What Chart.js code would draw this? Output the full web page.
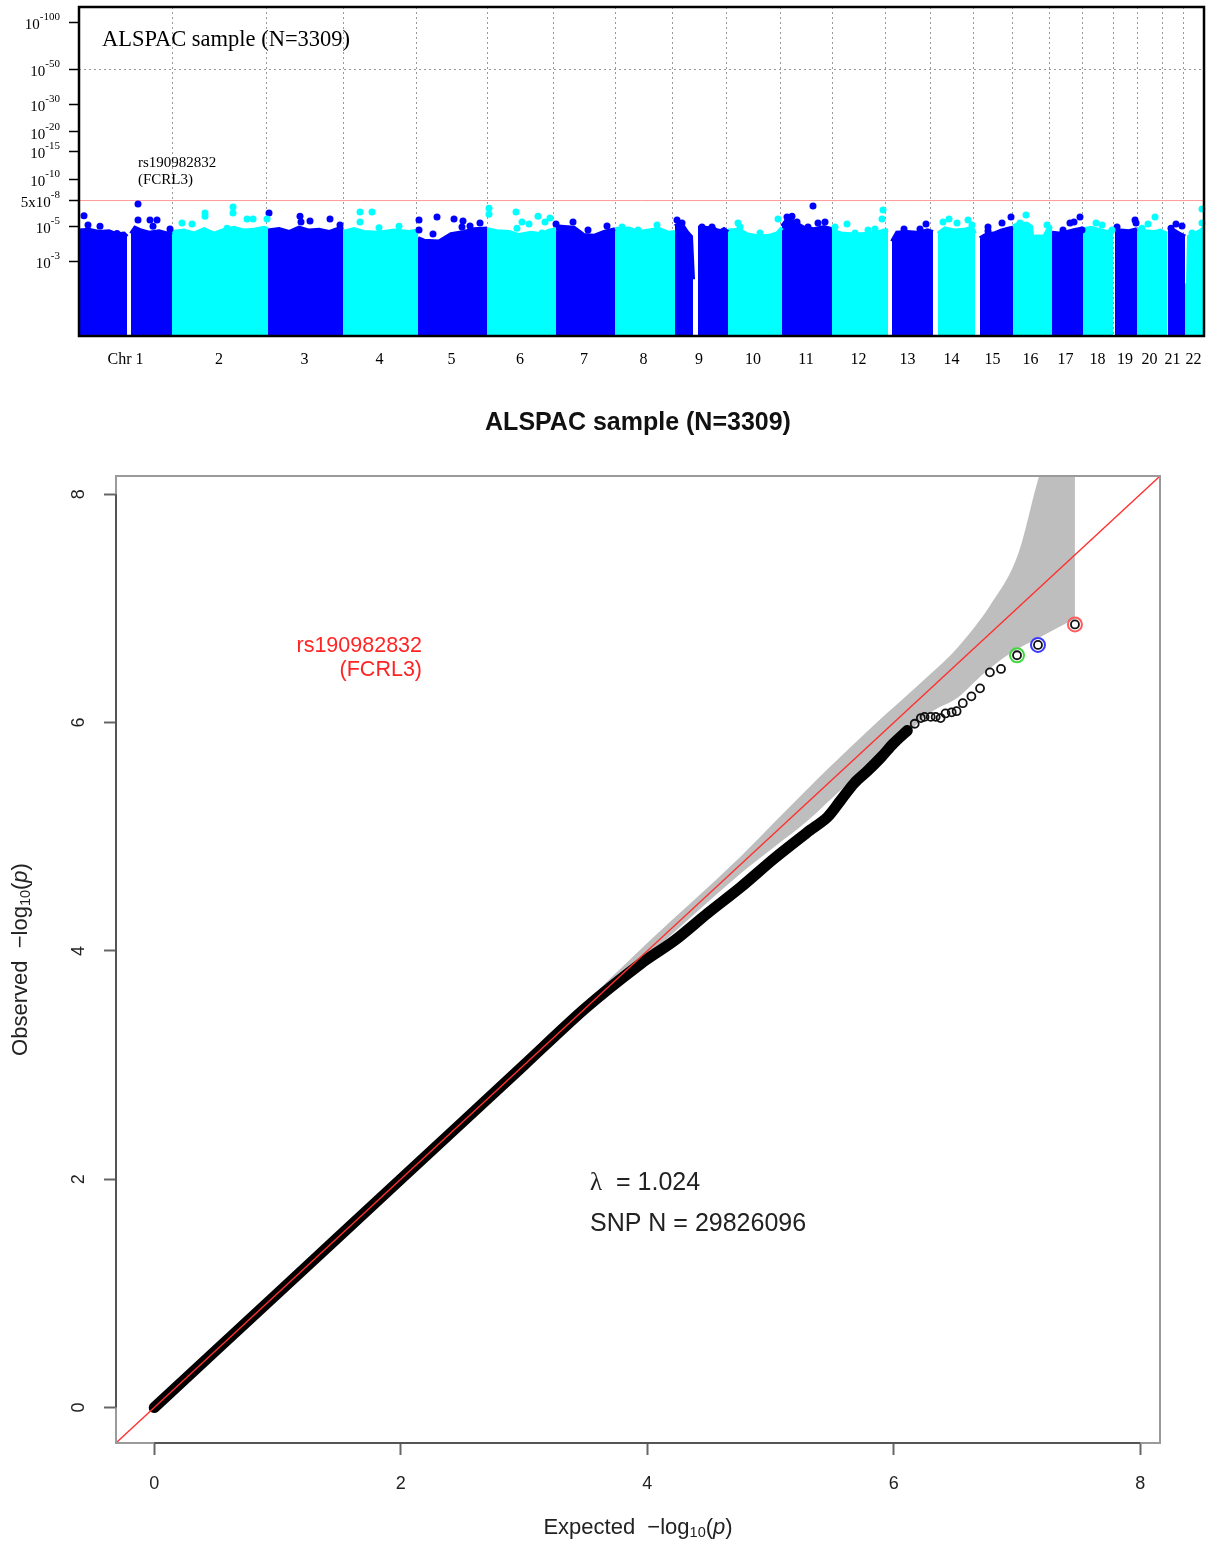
<!DOCTYPE html>
<html>
<head>
  <title>ALSPAC sample (N=3309) - Manhattan and QQ plot</title>
  <meta charset="UTF-8">
  <script src="https://cdn.jsdelivr.net/npm/chart.js"></script>
  <style>
    body { margin: 0; background: #fff; }
    #manhattan { position: absolute; left: 0; top: 0; }
    #qq { position: absolute; left: 0; top: 380px; }
  </style>
</head>
<body>
  <canvas id="manhattan" width="1211" height="380"></canvas>
  <canvas id="qq" width="1211" height="1164"></canvas>

  <script>
    // ---- Manhattan data ----
    // chromosome widths along the genome axis
    const chrLen = [93, 94, 77, 73, 71, 66, 62, 57, 54, 54, 52, 53, 45, 43, 39, 37, 33, 31, 24, 25, 21, 21];
    const chrNames = ['Chr 1', '2', '3', '4', '5', '6', '7', '8', '9', '10', '11',
                      '12', '13', '14', '15', '16', '17', '18', '19', '20', '21', '22'];
    const chrColors = ['#0000ff', '#00ffff'];

    // upper edge of the dense cloud per chromosome: [genome pos, -log10(p)]
    const chrBody = [
      [[[0, 4.7], [10, 4.75], [20, 4.6], [30, 4.65], [38, 4.45], [45, 4.5], [48, 4.3]],
       [[52, 4.5], [56, 4.9], [62, 4.7], [70, 4.55], [80, 4.65], [88, 4.5], [93, 4.6]]],
      [[[93, 4.6], [105, 4.7], [115, 4.5], [125, 4.8], [135, 4.5], [145, 4.75], [155, 4.9], [165, 4.7], [175, 4.75], [185, 4.9], [189, 4.8]]],
      [[[189, 4.7], [200, 4.8], [210, 4.6], [220, 4.9], [230, 4.7], [240, 4.75], [250, 4.6], [258, 4.8], [264, 4.9]]],
      [[[264, 4.6], [275, 4.8], [285, 4.6], [300, 4.55], [315, 4.7], [330, 4.6], [339, 4.7]]],
      [[[339, 4.2], [345, 4.05], [360, 4.0], [372, 4.45], [385, 4.6], [395, 4.8], [408, 4.85]]],
      [[[408, 4.8], [418, 4.65], [430, 4.6], [440, 4.4], [452, 4.55], [462, 4.45], [470, 4.7], [477, 4.8]]],
      [[[477, 5.0], [485, 4.95], [495, 4.9], [505, 4.4], [515, 4.35], [525, 4.6], [536, 4.8]]],
      [[[536, 4.8], [550, 4.85], [560, 4.6], [570, 4.7], [580, 4.8], [590, 4.55], [596, 4.6]]],
      [[[596, 5.0], [602, 5.25], [608, 4.6], [612, 4.3], [614, 2.3]],
       [[619, 4.9], [625, 4.9], [635, 4.85], [640, 4.6], [645, 4.8], [649, 4.6]]],
      [[[649, 4.7], [660, 4.75], [668, 4.45], [680, 4.3], [690, 4.35], [698, 4.5], [703, 4.9]]],
      [[[703, 5.0], [707, 5.4], [712, 5.5], [718, 5.2], [725, 4.9], [735, 4.8], [745, 4.95], [753, 4.8]]],
      [[[753, 4.7], [762, 4.5], [772, 4.45], [782, 4.45], [792, 4.5], [800, 4.6], [809, 4.75]]],
      [[[813, 4.0], [818, 4.55], [828, 4.6], [838, 4.55], [848, 4.7], [854, 4.6]]],
      [[[859, 4.5], [866, 4.85], [875, 4.7], [885, 4.75], [893, 4.9], [896, 4.5]]],
      [[[901, 4.2], [908, 4.45], [915, 4.5], [922, 4.7], [930, 4.85], [934, 4.9]]],
      [[[934, 5.0], [940, 5.2], [948, 5.2], [952, 5.0], [955, 3.4], [957, 4.3], [965, 4.3], [970, 4.9], [973, 5.0]]],
      [[[973, 4.55], [980, 4.5], [988, 4.6], [996, 4.75], [1004, 4.85]]],
      [[[1004, 4.8], [1012, 4.9], [1020, 4.75], [1028, 4.6], [1034, 4.7]]],
      [[[1036, 4.6], [1042, 4.7], [1050, 4.65], [1058, 4.8]]],
      [[[1058, 4.8], [1066, 4.65], [1074, 4.6], [1082, 4.65], [1088, 4.5]]],
      [[[1089, 4.7], [1095, 4.7], [1100, 4.5], [1106, 4.3]]],
      [[[1106, 2.1], [1109, 2.1], [1110, 4.3], [1116, 4.5], [1122, 4.7], [1126, 5.0]]]
    ];

    // single SNPs standing out above the cloud: [genome pos, -log10(p)]
    const chrHits = [
      [[5, 5.84], [9, 5.1], [21, 5.0], [38, 4.5], [59, 6.93], [59, 5.48], [71, 5.48], [78, 5.48], [74, 5.0], [91, 4.8]],
      [[103, 5.25], [113, 5.17], [126, 6.07], [126, 5.8], [148, 4.87], [154, 6.63], [154, 6.07], [168, 5.57], [174, 5.57], [188, 5.57]],
      [[190, 6.07], [221, 5.8], [222, 5.32], [231, 5.4], [251, 5.57], [261, 5.09]],
      [[281, 6.17], [293, 6.17], [281, 5.32], [300, 4.9], [320, 5.0]],
      [[340, 5.48], [340, 4.73], [358, 5.73], [354, 4.47], [375, 5.57], [384, 5.4], [401, 5.25], [383, 4.95], [391, 5.02]],
      [[410, 6.53], [410, 5.98], [437, 6.17], [443, 5.32], [438, 4.87], [450, 5.17], [459, 5.8], [466, 5.32], [471, 5.65], [463, 4.53]],
      [[494, 5.32], [477, 5.17], [509, 4.73], [528, 5.02]],
      [[578, 5.09], [559, 4.73], [543, 4.95]],
      [[598, 5.48], [603, 5.25], [623, 4.95], [633, 4.95], [639, 4.6]],
      [[659, 5.25], [661, 4.95], [681, 4.53], [699, 5.57]],
      [[708, 5.73], [713, 5.8], [718, 5.32], [734, 6.73], [729, 4.95], [739, 5.25], [746, 5.32]],
      [[756, 4.95], [768, 5.17], [776, 4.53], [789, 4.73], [796, 4.81], [804, 6.35], [803, 5.57], [805, 4.6]],
      [[825, 4.81], [841, 4.81], [847, 5.17], [849, 4.6]],
      [[864, 5.32], [870, 5.57], [878, 5.25], [889, 5.48], [893, 5.09], [864, 4.6]],
      [[909, 4.95], [909, 4.67], [923, 5.25], [932, 5.73]],
      [[947, 5.9], [941, 5.25], [968, 5.09]],
      [[984, 4.73], [991, 5.25], [995, 5.32], [1001, 5.73], [1003, 4.73]],
      [[1017, 5.25], [1023, 5.09], [1033, 4.73]],
      [[1038, 4.95], [1056, 5.48], [1057, 5.25]],
      [[1063, 4.87], [1069, 5.17], [1076, 5.73], [1081, 4.6]],
      [[1092, 4.87], [1097, 5.17], [1103, 5.02]],
      [[1113, 4.53], [1123, 6.44], [1123, 5.25]]
    ];

    const sigP = 5e-8;
    const manTickP = [1e-3, 1e-5, 5e-8, 1e-10, 1e-15, 1e-20, 1e-30, 1e-50, 1e-100];
    const manTickBase = ['10', '10', '5x10', '10', '10', '10', '10', '10', '10'];
    const manTickExp = ['-3', '-5', '-8', '-10', '-15', '-20', '-30', '-50', '-100'];
    const manGridP = [1e-50];
    const manTitle = 'ALSPAC sample (N=3309)';
    const topSnp = ['rs190982832', '(FCRL3)'];

    // ---- QQ data ----
    const qqTicks = [0, 2, 4, 6, 8];
    const qqMin = -0.31, qqMax = 8.16;
    // dense part of the observed curve
    const qqExp = [0, 1, 2, 3, 3.5, 3.95, 4.22, 4.49, 4.76, 5.03, 5.30, 5.46, 5.57, 5.68, 5.79, 5.90, 6.0, 6.11];
    const qqObs = [0, 1, 2, 3, 3.5, 3.89, 4.09, 4.33, 4.56, 4.81, 5.04, 5.17, 5.32, 5.47, 5.58, 5.70, 5.82, 5.93];
    // separate points in the tail
    const tailExp = [6.17, 6.22, 6.25, 6.30, 6.34, 6.38, 6.42, 6.47, 6.51, 6.56, 6.63, 6.70, 6.78, 6.87, 7.00, 7.17, 7.47];
    const tailObs = [5.99, 6.04, 6.05, 6.05, 6.05, 6.04, 6.08, 6.09, 6.10, 6.17, 6.23, 6.30, 6.44, 6.47, 6.59, 6.68, 6.86];
    // highlighted top SNPs
    const ringExp = [7.00, 7.17, 7.47];
    const ringObs = [6.59, 6.68, 6.86];
    const ringColors = ['#3fd83f', '#3a3aff', '#ff5a5a'];
    // 95% band
    const bandHiExp = [0, 1, 2, 3, 3.5, 4, 4.76, 5.09, 5.47, 5.84, 6.2, 6.52, 6.79, 7.01, 7.18, 7.47];
    const bandHi = [0, 1.0, 2.01, 3.03, 3.55, 4.07, 4.83, 5.19, 5.6, 5.98, 6.33, 6.66, 7.04, 7.48, 8.16, 9.0];
    const bandLoExp = [0, 1, 2, 3, 3.5, 4, 4.76, 5.03, 5.30, 5.57, 5.84, 6.11, 6.30, 6.52, 6.73, 6.95, 7.19, 7.47];
    const bandLo = [0, 1, 1.99, 2.97, 3.46, 3.95, 4.68, 4.91, 5.14, 5.41, 5.67, 5.91, 6.09, 6.22, 6.43, 6.61, 6.75, 6.91];
    const qqTitle = 'ALSPAC sample (N=3309)';
    const lambdaVal = '1.024';
    const snpCount = '29826096';

    Chart.defaults.font.family = 'Liberation Sans';
    Chart.defaults.color = '#222';

    const xy = (xs, ys) => xs.map((x, i) => ({ x: x, y: ys[i] }));

    // draw a run of text pieces with their own fonts / offsets
    function drawParts(ctx, x, y, parts, align) {
      let w = 0;
      parts.forEach(p => { ctx.font = p.font; p.w = ctx.measureText(p.text).width; w += p.w; });
      let cx = align === 'right' ? x - w : (align === 'center' ? x - w / 2 : x);
      ctx.textAlign = 'left';
      ctx.textBaseline = 'middle';
      parts.forEach(p => {
        ctx.font = p.font;
        ctx.fillText(p.text, cx, y + (p.dy || 0));
        cx += p.w;
      });
    }

    // ---------------- Manhattan ----------------
    const chrStart = [];
    chrLen.reduce((acc, l) => { chrStart.push(acc); return acc + l; }, 0);
    const genomeLen = chrLen.reduce((a, b) => a + b, 0);

    const manDatasets = [];
    chrBody.forEach((segs, c) => {
      const col = chrColors[c % 2];
      segs.forEach(seg => {
        manDatasets.push({
          type: 'line',
          data: seg.map(p => ({ x: p[0], y: p[1] })),
          borderColor: col,
          backgroundColor: col,
          borderWidth: 4,
          pointRadius: 0,
          fill: 'start',
          tension: 0,
          order: 3
        });
      });
    });
    chrHits.forEach((pts, c) => {
      manDatasets.push({
        type: 'scatter',
        data: pts.map(p => ({ x: p[0], y: p[1] })),
        backgroundColor: chrColors[c % 2],
        borderWidth: 0,
        pointRadius: 3.5,
        clip: 4,
        order: 1
      });
    });
    manDatasets.push({
      type: 'line',
      data: [{ x: 0, y: -Math.log10(sigP) }, { x: genomeLen, y: -Math.log10(sigP) }],
      borderColor: '#ff9a9a',
      borderWidth: 1,
      pointRadius: 0,
      order: 2
    });

    const manPlugin = {
      id: 'manDecor',
      beforeDatasetsDraw(chart) {
        const { ctx, chartArea: a, scales: { x, y } } = chart;
        ctx.save();
        ctx.strokeStyle = '#999';
        ctx.lineWidth = 1;
        ctx.setLineDash([2, 3]);
        chrStart.slice(1).forEach(s => {
          const px = Math.round(x.getPixelForValue(s)) + 0.5;
          ctx.beginPath(); ctx.moveTo(px, a.top); ctx.lineTo(px, a.bottom); ctx.stroke();
        });
        manGridP.forEach(p => {
          const py = Math.round(y.getPixelForValue(-Math.log10(p))) + 0.5;
          ctx.beginPath(); ctx.moveTo(a.left, py); ctx.lineTo(a.right, py); ctx.stroke();
        });
        ctx.restore();
      },
      afterDraw(chart) {
        const { ctx, chartArea: a, scales: { y } } = chart;
        ctx.save();
        ctx.strokeStyle = '#000';
        ctx.lineWidth = 2.5;
        ctx.strokeRect(a.left, a.top, a.right - a.left, a.bottom - a.top);
        ctx.fillStyle = '#000';
        manTickP.forEach((p, i) => {
          const py = y.getPixelForValue(-Math.log10(p));
          drawParts(ctx, 60, py, [
            { text: manTickBase[i], font: '15px "Liberation Serif"', dy: 3 },
            { text: manTickExp[i], font: '11px "Liberation Serif"', dy: -5 }
          ], 'right');
        });
        drawParts(ctx, 102, 40, [{ text: manTitle, font: '22.5px "Liberation Serif"' }], 'left');
        drawParts(ctx, 138, 163, [{ text: topSnp[0], font: '15px "Liberation Serif"' }], 'left');
        drawParts(ctx, 138, 180, [{ text: topSnp[1], font: '15px "Liberation Serif"' }], 'left');
        ctx.restore();
      }
    };

    new Chart(document.getElementById('manhattan'), {
      type: 'scatter',
      data: { datasets: manDatasets },
      plugins: [manPlugin],
      options: {
        responsive: false,
        animation: false,
        events: [],
        layout: { padding: { left: 0, right: 7, top: 7, bottom: 0 } },
        plugins: { legend: { display: false }, tooltip: { enabled: false } },
        scales: {
          x: {
            type: 'linear',
            min: 0,
            max: genomeLen,
            grid: { display: false },
            border: { display: false },
            afterBuildTicks: s => { s.ticks = chrStart.map((st, i) => ({ value: st + chrLen[i] / 2 })); },
            afterFit: s => { s.height = 44; },
            ticks: {
              autoSkip: false,
              maxRotation: 0,
              minRotation: 0,
              padding: 6,
              color: '#000',
              font: { family: 'Liberation Serif', size: 16 },
              callback: (v, i) => chrNames[i]
            }
          },
          y: {
            type: 'logarithmic',
            min: 1,
            max: 125,
            grid: { display: true, drawOnChartArea: false, drawTicks: true, tickLength: 10, tickColor: '#000', tickWidth: 1.5 },
            border: { display: false },
            afterBuildTicks: s => { s.ticks = manTickP.map(p => ({ value: -Math.log10(p) })); },
            afterFit: s => { s.width = 79; },
            ticks: { display: false }
          }
        }
      }
    });

    // ---------------- QQ plot ----------------
    const qqPlugin = {
      id: 'qqDecor',
      afterDraw(chart) {
        const { ctx, chartArea: a, scales: { x, y } } = chart;
        ctx.save();
        // box
        ctx.strokeStyle = '#9a9a9a';
        ctx.lineWidth = 2;
        ctx.strokeRect(a.left, a.top, a.right - a.left, a.bottom - a.top);
        // axis lines from first to last tick
        ctx.strokeStyle = '#555';
        ctx.beginPath();
        ctx.moveTo(x.getPixelForValue(qqTicks[0]), a.bottom);
        ctx.lineTo(x.getPixelForValue(qqTicks[qqTicks.length - 1]), a.bottom);
        ctx.moveTo(a.left, y.getPixelForValue(qqTicks[0]));
        ctx.lineTo(a.left, y.getPixelForValue(qqTicks[qqTicks.length - 1]));
        ctx.stroke();

        ctx.fillStyle = '#222';
        // rotated y tick labels
        qqTicks.forEach(v => {
          ctx.save();
          ctx.translate(79, y.getPixelForValue(v));
          ctx.rotate(-Math.PI / 2);
          drawParts(ctx, 0, 0, [{ text: String(v), font: '18px "Liberation Sans"' }], 'center');
          ctx.restore();
        });

        const titleParts = lab => [
          { text: lab + '  \u2212log', font: '22px "Liberation Sans"' },
          { text: '10', font: '14.5px "Liberation Sans"', dy: 5 },
          { text: '(', font: '22px "Liberation Sans"' },
          { text: 'p', font: 'italic 22px "Liberation Sans"' },
          { text: ')', font: '22px "Liberation Sans"' }
        ];
        drawParts(ctx, (a.left + a.right) / 2, 1148, titleParts('Expected'), 'center');
        ctx.save();
        ctx.translate(21, (a.top + a.bottom) / 2);
        ctx.rotate(-Math.PI / 2);
        drawParts(ctx, 0, 0, titleParts('Observed'), 'center');
        ctx.restore();

        ctx.fillStyle = '#111';
        drawParts(ctx, 638, 43, [{ text: qqTitle, font: 'bold 25px "Liberation Sans"' }], 'center');

        ctx.fillStyle = '#222';
        drawParts(ctx, 590, 803, [
          { text: '\u03bb', font: '25px "Liberation Serif"' },
          { text: '  = ' + lambdaVal, font: '25px "Liberation Sans"' }
        ], 'left');
        drawParts(ctx, 590, 844, [{ text: 'SNP N = ' + snpCount, font: '25px "Liberation Sans"' }], 'left');

        ctx.fillStyle = '#ff2424';
        drawParts(ctx, 422, 266, [{ text: topSnp[0], font: '21.5px "Liberation Sans"' }], 'right');
        drawParts(ctx, 422, 290, [{ text: topSnp[1], font: '21.5px "Liberation Sans"' }], 'right');
        ctx.restore();
      }
    };

    new Chart(document.getElementById('qq'), {
      type: 'scatter',
      data: {
        datasets: [
          {
            // highlighted hits
            data: xy(ringExp, ringObs),
            pointRadius: 7,
            pointBorderWidth: 2,
            pointBorderColor: ringColors,
            pointBackgroundColor: 'rgba(0,0,0,0)',
            order: 0
          },
          {
            // y = x reference
            type: 'line',
            data: [{ x: qqMin, y: qqMin }, { x: qqMax, y: qqMax }],
            borderColor: '#ff3030',
            borderWidth: 1.3,
            pointRadius: 0,
            order: 1
          },
          {
            data: xy(tailExp, tailObs),
            pointRadius: 4,
            pointBorderWidth: 1.8,
            pointBorderColor: '#111',
            pointBackgroundColor: 'rgba(0,0,0,0)',
            order: 2
          },
          {
            type: 'line',
            data: xy(qqExp, qqObs),
            borderColor: '#000',
            borderWidth: 11,
            borderCapStyle: 'round',
            borderJoinStyle: 'round',
            pointRadius: 0,
            tension: 0.3,
            order: 3
          },
          {
            type: 'line',
            data: xy(bandHiExp, bandHi),
            borderWidth: 0,
            borderColor: 'rgba(0,0,0,0)',
            backgroundColor: '#bebebe',
            pointRadius: 0,
            cubicInterpolationMode: 'monotone',
            fill: '+1',
            order: 4
          },
          {
            type: 'line',
            data: xy(bandLoExp, bandLo),
            borderWidth: 0,
            borderColor: 'rgba(0,0,0,0)',
            pointRadius: 0,
            cubicInterpolationMode: 'monotone',
            fill: false,
            order: 5
          }
        ]
      },
      plugins: [qqPlugin],
      options: {
        responsive: false,
        animation: false,
        events: [],
        layout: { padding: { left: 0, right: 51, top: 96, bottom: 0 } },
        plugins: { legend: { display: false }, tooltip: { enabled: false } },
        scales: {
          x: {
            type: 'linear',
            min: qqMin,
            max: qqMax,
            grid: { display: true, drawOnChartArea: false, drawTicks: true, tickLength: 12, tickColor: '#666', tickWidth: 2 },
            border: { display: false },
            afterBuildTicks: s => { s.ticks = qqTicks.map(v => ({ value: v })); },
            afterFit: s => { s.height = 101; },
            ticks: { padding: 18, color: '#222', font: { size: 18 }, maxRotation: 0, autoSkip: false }
          },
          y: {
            type: 'linear',
            min: qqMin,
            max: qqMax,
            grid: { display: true, drawOnChartArea: false, drawTicks: true, tickLength: 12, tickColor: '#666', tickWidth: 2 },
            border: { display: false },
            afterBuildTicks: s => { s.ticks = qqTicks.map(v => ({ value: v })); },
            afterFit: s => { s.width = 116; },
            ticks: { display: false }
          }
        }
      }
    });
  </script>
</body>
</html>
